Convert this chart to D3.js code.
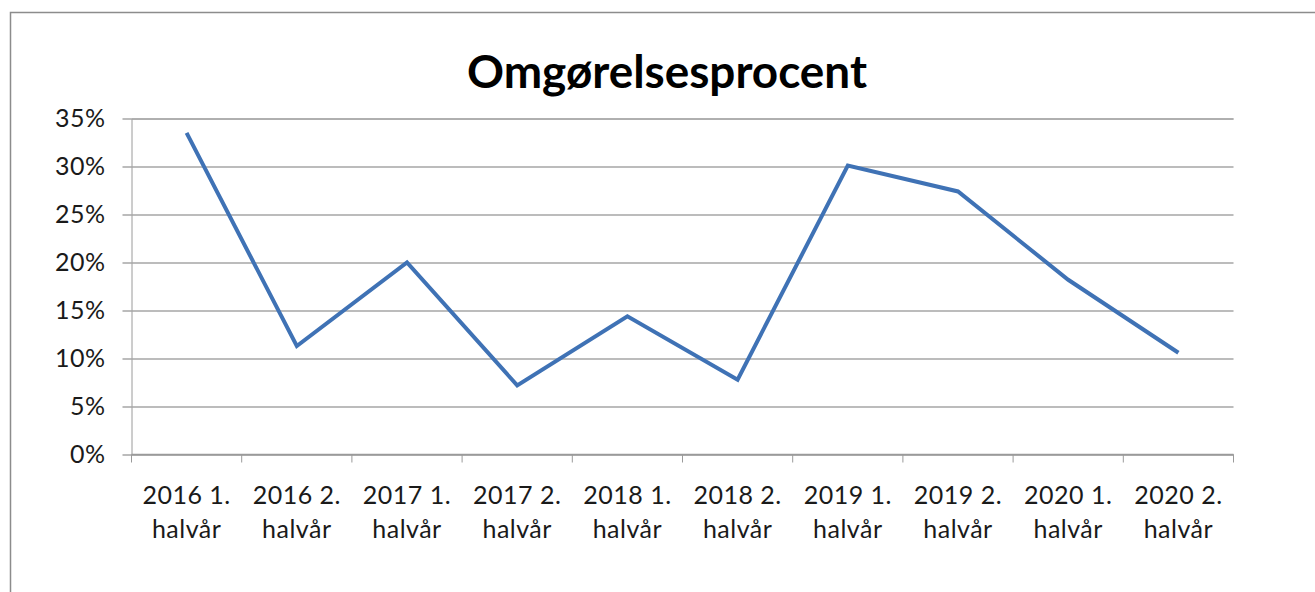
<!DOCTYPE html>
<html>
<head>
<meta charset="utf-8">
<script src="https://cdn.jsdelivr.net/npm/d3@7"></script>
<style>
  body { margin: 0; background: #fff; }
  svg { display: block; }
</style>
</head>
<body>
<div id="chart"></div>
<script>
// data
const categories = [
  ['2016 1.', 'halvår'], ['2016 2.', 'halvår'],
  ['2017 1.', 'halvår'], ['2017 2.', 'halvår'],
  ['2018 1.', 'halvår'], ['2018 2.', 'halvår'],
  ['2019 1.', 'halvår'], ['2019 2.', 'halvår'],
  ['2020 1.', 'halvår'], ['2020 2.', 'halvår']
];
const values = [33.5, 11.3, 20.0, 7.2, 14.4, 7.8, 30.1, 27.4, 18.2, 10.6];
const yTicks = [0, 5, 10, 15, 20, 25, 30, 35];
const title = 'Omgørelsesprocent';

const W = 1315, H = 592;
const margin = { top: 118.5, right: 81.5, bottom: 137.5, left: 131.5 };
const width = W - margin.left - margin.right;
const height = H - margin.top - margin.bottom;
const font = 'Lato, "Open Sans", sans-serif';

const svg = d3.select('#chart').append('svg')
  .attr('width', W)
  .attr('height', H);

// outer frame of the chart area
svg.append('rect')
  .attr('x', 10.5).attr('y', 12.5)
  .attr('width', W + 20).attr('height', H + 20)
  .attr('fill', 'none')
  .attr('stroke', '#8c8c8c')
  .attr('stroke-width', 1.5);

const titleText = svg.append('text')
  .attr('x', 667).attr('y', 88)
  .attr('text-anchor', 'middle')
  .style('font-family', font)
  .style('font-weight', 'bold')
  .style('font-size', '40px')
  .attr('fill', '#000')
  .text(title);
// fit title width to the reference (~400px)
const tw = titleText.node().getComputedTextLength();
titleText.style('font-size', (40 * 400 / tw) + 'px');

const g = svg.append('g')
  .attr('transform', `translate(${margin.left},${margin.top})`);

const x = d3.scaleBand()
  .domain(categories.map(c => c.join(' ')))
  .range([0, width]);

const y = d3.scaleLinear()
  .domain([0, 35])
  .range([height, 0]);

// gridlines + y axis
const yAxis = d3.axisLeft(y)
  .tickValues(yTicks)
  .tickSize(-width)
  .tickPadding(26)
  .tickFormat(d => d + '%');

const yg = g.append('g').attr('class', 'axis-y').call(yAxis);
yg.select('.domain').attr('stroke', '#9a9a9a');
yg.selectAll('.tick line')
  .attr('stroke', '#a6a6a6')
  .attr('stroke-width', 1.3)
  .attr('x1', -9);
yg.selectAll('text')
  .attr('fill', '#1a1a1a')
  .style('font-family', font)
  .style('font-size', '25px')
  .style('letter-spacing', '0.5px');

// x axis with ticks at category boundaries
const xg = g.append('g')
  .attr('class', 'axis-x')
  .attr('transform', `translate(0,${height})`);
xg.append('line')
  .attr('x1', 0).attr('x2', width)
  .attr('stroke', '#9a9a9a').attr('stroke-width', 1.3);
xg.selectAll('.bound')
  .data(d3.range(categories.length + 1))
  .join('line')
  .attr('class', 'bound')
  .attr('x1', i => i < categories.length ? x(x.domain()[i]) : width)
  .attr('x2', i => i < categories.length ? x(x.domain()[i]) : width)
  .attr('y1', 0).attr('y2', 8)
  .attr('stroke', '#9a9a9a');

const labels = xg.selectAll('.lbl')
  .data(categories)
  .join('text')
  .attr('class', 'lbl')
  .attr('text-anchor', 'middle')
  .attr('x', d => x(d.join(' ')) + x.bandwidth() / 2)
  .style('font-family', font)
  .style('font-size', '25px')
  .style('letter-spacing', '0.5px')
  .attr('fill', '#1a1a1a');
labels.append('tspan')
  .attr('x', d => x(d.join(' ')) + x.bandwidth() / 2)
  .attr('y', 49)
  .text(d => d[0]);
labels.append('tspan')
  .attr('x', d => x(d.join(' ')) + x.bandwidth() / 2)
  .attr('y', 83)
  .text(d => d[1]);

// series line
const line = d3.line()
  .x((d, i) => x(categories[i].join(' ')) + x.bandwidth() / 2)
  .y(d => y(d));

g.append('path')
  .datum(values)
  .attr('fill', 'none')
  .attr('stroke', '#3f72b5')
  .attr('stroke-width', 4)
  .attr('stroke-linejoin', 'miter')
  .attr('d', line);
</script>
</body>
</html>
